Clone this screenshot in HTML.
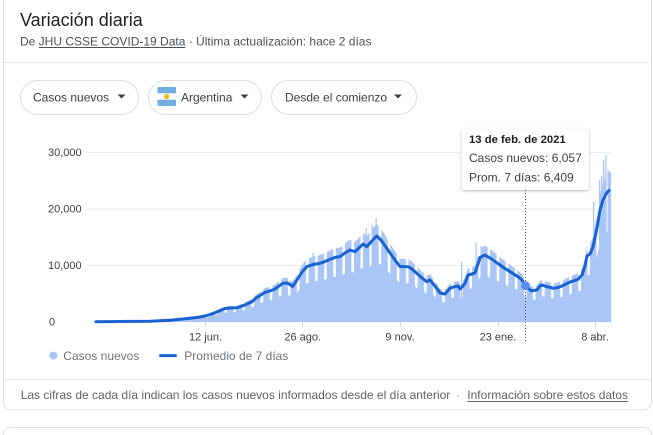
<!DOCTYPE html>
<html><head><meta charset="utf-8"><style>
html,body{margin:0;padding:0;background:#fff;}
body{width:653px;height:435px;overflow:hidden;}
svg{display:block;font-family:"Liberation Sans",Arial,sans-serif;}
</style></head><body>
<svg width="653" height="435" viewBox="0 0 653 435" xmlns="http://www.w3.org/2000/svg">
<defs>
<pattern id="wk" x="0" y="0" width="9.077" height="500" patternUnits="userSpaceOnUse">
<rect x="0" y="0" width="6.5" height="500" fill="#a9c6f7"/>
</pattern>
<filter id="sh" x="-20%" y="-20%" width="140%" height="150%">
<feDropShadow dx="0" dy="1" stdDeviation="1.4" flood-color="#000" flood-opacity="0.28"/>
</filter>
<polygon id="area" points="96,321.7 110,321.6 130,321.4 150,321.2 160,320.8 170,320.2 180,319.3 190,318.2 200,317 205,316 210,314.5 215,312.7 220,310.5 225,308.5 230,308 237,307.7 243,305.7 248,303.5 252,301.7 256,298 259,296.3 265,292.3 270,291 275,289 279,286 283,283.3 287,283 290,284.5 292.5,286.5 296,281.5 302,272 307,266.5 313,264.5 320,263.3 325,261.5 330,259.3 335,257.5 340,256.5 345,253 350,250 355,251.7 360,247 363.3,244 366.7,246.7 371,242 376.7,236 380,239 383.3,243.3 390,253 395,260 400,266.5 408.3,266.7 412,269 416.7,273.3 422,278 426.7,281.7 430,280 435,286 440,293 445,294 450,288.3 455,286.5 458.3,286 460,289 462,287 465,283.3 468,275 472,274 475,272.7 478,264 480,257.5 485,255 492,259.3 500,265 505,268.5 510,271.7 518,276.7 522,280 525.5,285.7 528,288 531,290.7 537,290 540,286 542,285 546,286.5 550,287.3 553,288.3 558,287.5 562,286 567,283.5 572,281.3 578,279.3 582,275 585,266 587,256 590,254 593,247 597,228 600,210 603,200 606,194 609,190.5 611,190 611,322 96,322"/>
</defs>

<!-- cards -->
<rect x="3.5" y="-12" width="648" height="422" rx="8" fill="#fff" stroke="#dfe1e5" stroke-width="1"/>
<path d="M3.5,436 L3.5,435.5 Q3.5,427.5 11.5,427.5 L643.5,427.5 Q651.5,427.5 651.5,435.5 L651.5,436" fill="none" stroke="#dfe1e5" stroke-width="1"/>
<line x1="4" y1="62.5" x2="651" y2="62.5" stroke="#e8eaed" stroke-width="1"/>
<line x1="4" y1="379.5" x2="651" y2="379.5" stroke="#e8eaed" stroke-width="1"/>

<!-- header -->
<text x="20" y="26" font-size="18" fill="#202124">Variación diaria</text>
<text x="20" y="45.5" font-size="12" fill="#4d5156">De JHU CSSE COVID-19 Data · Última actualización: hace 2 días</text>
<line x1="39" y1="47.5" x2="185.3" y2="47.5" stroke="#4d5156" stroke-width="1"/>

<!-- buttons -->
<rect x="20.5" y="80.5" width="118" height="34" rx="17" fill="#fff" stroke="#dadce0"/>
<text x="33" y="101.5" font-size="12" fill="#3c4043">Casos nuevos</text>
<polygon points="117.5,94.5 125.5,94.5 121.5,98.5" fill="#3c4043"/>

<rect x="148.5" y="80.5" width="113" height="34" rx="17" fill="#fff" stroke="#dadce0"/>
<rect x="157.5" y="87" width="18.5" height="19" rx="1.5" fill="#74acdf"/>
<rect x="157.5" y="93.3" width="18.5" height="6.4" fill="#fff"/>
<circle cx="166.7" cy="96.5" r="2.6" fill="#f6b40e"/>
<text x="181" y="101.5" font-size="12" fill="#3c4043">Argentina</text>
<polygon points="240.5,94.5 248.5,94.5 244.5,98.5" fill="#3c4043"/>

<rect x="271.5" y="80.5" width="145" height="34" rx="17" fill="#fff" stroke="#dadce0"/>
<text x="285" y="101.5" font-size="12" fill="#3c4043">Desde el comienzo</text>
<polygon points="394,94.5 402,94.5 398,98.5" fill="#3c4043"/>

<!-- gridlines -->
<g stroke="#ececec" stroke-width="1">
<line x1="87" y1="152.5" x2="611" y2="152.5"/>
<line x1="87" y1="209" x2="611" y2="209"/>
<line x1="87" y1="265.5" x2="611" y2="265.5"/>
<line x1="87" y1="322" x2="611" y2="322"/>
</g>
<g font-size="11" fill="#3c4043">
<text x="48" y="156">30,000</text>
<text x="48" y="212.5">20,000</text>
<text x="48" y="269">10,000</text>
<text x="49" y="325.5">0</text>
</g>

<!-- bars -->
<use href="#area" transform="matrix(1,0,0,0.7,0,96.6)" fill="#a9c6f7"/>
<use href="#area" transform="matrix(1,0,0,1.14,0,-45.08)" fill="url(#wk)"/>
<g fill="#a9c6f7">
<rect x="312.5" y="253" width="1.3" height="69"/>
<rect x="365.5" y="228" width="1.3" height="94"/>
<rect x="371.5" y="225" width="1.3" height="97"/>
<rect x="375.5" y="218" width="1.3" height="104"/>
<rect x="461" y="262" width="1.3" height="60"/>
<rect x="475.5" y="243" width="1.3" height="79"/>
<rect x="480.5" y="246" width="1.3" height="76"/>
<rect x="593" y="202" width="1.3" height="120"/>
<rect x="599" y="180" width="1.3" height="142"/>
<rect x="601" y="176" width="1.3" height="146"/>
<rect x="603" y="160" width="1.3" height="162"/>
<rect x="605.3" y="155" width="1.3" height="167"/>
<rect x="607.5" y="170" width="1.3" height="152"/>
</g>

<!-- x ticks -->
<g stroke="#d5d5d5" stroke-width="1">
<line x1="205.5" y1="322" x2="205.5" y2="327"/>
<line x1="302.5" y1="322" x2="302.5" y2="327"/>
<line x1="400.5" y1="322" x2="400.5" y2="327"/>
<line x1="498.5" y1="322" x2="498.5" y2="327"/>
<line x1="595.5" y1="322" x2="595.5" y2="327"/>
</g>
<g font-size="11" fill="#3c4043" text-anchor="middle">
<text x="205.5" y="340.5">12 jun.</text>
<text x="302.7" y="340.5">26 ago.</text>
<text x="400" y="340.5">9 nov.</text>
<text x="498" y="340.5">23 ene.</text>
<text x="595" y="340.5">8 abr.</text>
</g>

<!-- avg line -->
<polyline fill="none" stroke="#1a62d2" stroke-width="3" stroke-linejoin="round" stroke-linecap="round" points="96,321.7 110,321.6 130,321.4 150,321.2 160,320.8 170,320.2 180,319.3 190,318.2 200,317 205,316 210,314.5 215,312.7 220,310.5 225,308.5 230,308 237,307.7 243,305.7 248,303.5 252,301.7 256,298 259,296.3 265,292.3 270,291 275,289 279,286 283,283.3 287,283 290,284.5 292.5,286.5 296,281.5 302,272 307,266.5 313,264.5 320,263.3 325,261.5 330,259.3 335,257.5 340,256.5 345,253 350,250 355,251.7 360,247 363.3,244 366.7,246.7 371,242 376.7,236 380,239 383.3,243.3 390,253 395,260 400,266.5 408.3,266.7 412,269 416.7,273.3 422,278 426.7,281.7 430,280 435,286 440,293 445,294 450,288.3 455,286.5 458.3,286 460,289 462,287 465,283.3 468,275 472,274 475,272.7 478,264 480,257.5 485,255 492,259.3 500,265 505,268.5 510,271.7 518,276.7 522,280 525.5,285.7 528,288 531,290.7 537,290 540,286 542,285 546,286.5 550,287.3 553,288.3 558,287.5 562,286 567,283.5 572,281.3 578,279.3 582,275 585,266 587,256 590,254 593,247 597,228 600,210 603,200 606,194 609,190.5"/>

<!-- hover -->
<line x1="525.5" y1="190" x2="525.5" y2="343" stroke="#555" stroke-width="1" stroke-dasharray="1,2"/>
<circle cx="525.5" cy="285.7" r="4.5" fill="#5a8ff0"/>
<rect x="461.5" y="128.5" width="127.5" height="61.5" rx="3" fill="#fff" filter="url(#sh)"/>
<text x="469" y="143" font-size="11.3" font-weight="bold" fill="#202124">13 de feb. de 2021</text>
<text x="469" y="162" font-size="12" fill="#3c4043">Casos nuevos: 6,057</text>
<text x="469" y="181.5" font-size="12" fill="#3c4043">Prom. 7 días: 6,409</text>

<!-- legend -->
<circle cx="53.3" cy="355.6" r="4" fill="#a9c6f7"/>
<text x="63.3" y="359.8" font-size="12" fill="#70757a">Casos nuevos</text>
<line x1="159.3" y1="355.6" x2="176.7" y2="355.6" stroke="#1a62d2" stroke-width="3"/>
<text x="184.3" y="359.8" font-size="12" fill="#70757a">Promedio de 7 días</text>

<!-- footer -->
<text x="20.7" y="399" font-size="12" fill="#5f6368">Las cifras de cada día indican los casos nuevos informados desde el día anterior</text>
<text x="456" y="399" font-size="12" fill="#9aa0a6">·</text>
<text x="467.3" y="399" font-size="12" fill="#5f6368">Información sobre estos datos</text>
<line x1="467.3" y1="401.5" x2="628" y2="401.5" stroke="#5f6368" stroke-width="1"/>
</svg>
</body></html>
